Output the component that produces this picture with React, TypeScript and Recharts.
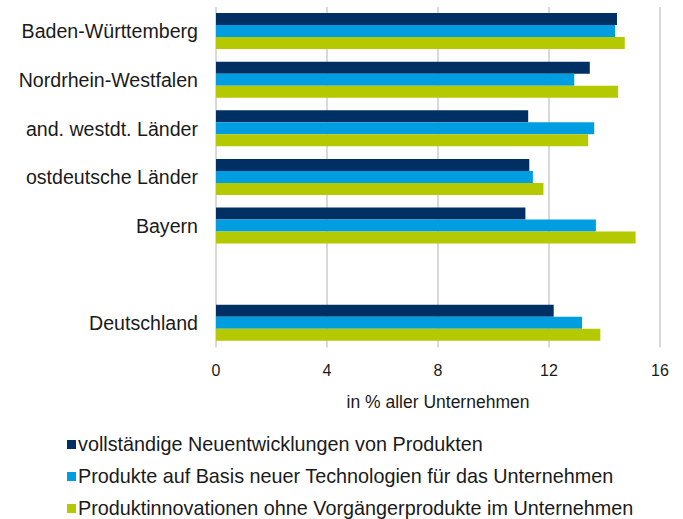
import React from 'react'
import { BarChart, Bar, XAxis, YAxis, CartesianGrid } from 'recharts'

// Regionen (leerer Eintrag = Abstand vor Deutschland)
const categories = [
  'Baden-Württemberg',
  'Nordrhein-Westfalen',
  'and. westdt. Länder',
  'ostdeutsche Länder',
  'Bayern',
  '',
  'Deutschland',
]

const neuentwicklungen = [14.45, 13.47, 11.25, 11.29, 11.15, null, 12.17]
const neueTechnologien = [14.38, 12.91, 13.63, 11.42, 13.69, null, 13.19]
const ohneVorgaenger = [14.73, 14.49, 13.41, 11.8, 15.12, null, 13.85]

const xTicks = [0, 4, 8, 12, 16]

const series = [
  { key: 'neu', name: 'vollständige Neuentwicklungen von Produkten', color: '#003063' },
  { key: 'tech', name: 'Produkte auf Basis neuer Technologien für das Unternehmen', color: '#009ee0' },
  { key: 'ohne', name: 'Produktinnovationen ohne Vorgängerprodukte im Unternehmen', color: '#b5c900' },
]

const data = categories.map((name, i) => ({
  name,
  neu: neuentwicklungen[i],
  tech: neueTechnologien[i],
  ohne: ohneVorgaenger[i],
}))

// keine Serifenschrift vorhanden -> Liberation Sans (Arial-Metrik)
const font = "'Liberation Sans', Arial, sans-serif"

export default function App() {
  return (
    <div style={{ width: 683, height: 519, fontFamily: font, color: '#1a1a1a' }}>
      <style>{'body{margin:0}'}</style>
      <BarChart
        width={683}
        height={420}
        data={data}
        layout="vertical"
        margin={{ top: 7, right: 23, bottom: 0, left: 0 }}
        barSize={12}
        barGap={0}
        style={{ fontFamily: font }}
      >
        <CartesianGrid horizontal={false} stroke="#d9d9d9" strokeWidth={2} />
        <XAxis
          type="number"
          domain={[0, 16]}
          ticks={xTicks}
          axisLine={false}
          tickLine={false}
          tickMargin={11}
          height={72.5}
          tick={{ fontSize: 16, fill: '#1a1a1a', fontFamily: font }}
          label={{
            value: 'in % aller Unternehmen',
            position: 'insideBottom',
            offset: 12,
            fontSize: 17.5,
            fill: '#1a1a1a',
            fontFamily: font,
          }}
        />
        <YAxis
          type="category"
          dataKey="name"
          width={216}
          interval={0}
          axisLine={false}
          tickLine={false}
          tickMargin={12}
          tick={{ fontSize: 19.6, fill: '#1a1a1a', fontFamily: font }}
        />
        {series.map((s) => (
          <Bar key={s.key} dataKey={s.key} name={s.name} fill={s.color} isAnimationActive={false} />
        ))}
      </BarChart>
      <div style={{ paddingLeft: 67, marginTop: 8 }}>
        {series.map((s) => (
          <div key={s.key} style={{ display: 'flex', alignItems: 'center', height: 32, fontSize: 19.8 }}>
            <span style={{ width: 9, height: 9, background: s.color, display: 'inline-block', flexShrink: 0 }} />
            <span style={{ marginLeft: 2, whiteSpace: 'nowrap' }}>{s.name}</span>
          </div>
        ))}
      </div>
    </div>
  )
}
